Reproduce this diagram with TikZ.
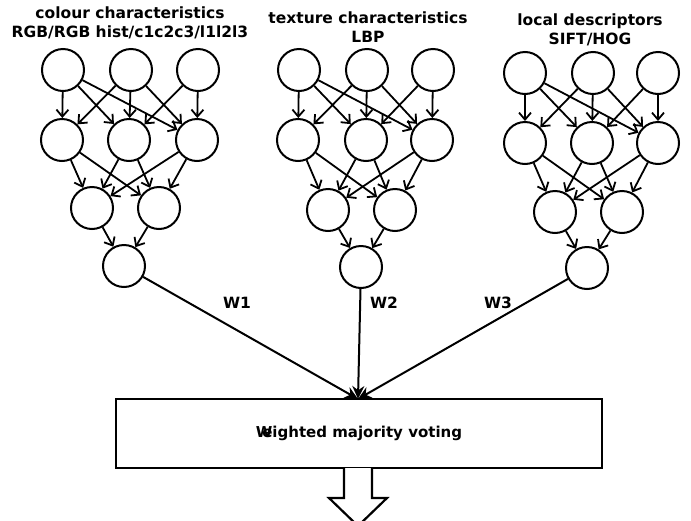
\documentclass[tikz,border=0pt]{standalone}
\usepackage{fontspec}
\setmainfont{DejaVu Sans}
\usetikzlibrary{arrows.meta}
\tikzset{
  neuron/.style={circle,draw,line width=2pt,minimum size=42pt,inner sep=0pt},
  edge/.style={line width=1.8pt,-{Straight Barb[length=7pt,width=12pt,line width=1.8pt]}},
  mainedge/.style={line width=2pt,-{Stealth[length=13pt,width=12pt]}},
  title/.style={font=\bfseries\fontsize{15.5}{19}\selectfont,align=center},
  wlabel/.style={font=\bfseries\fontsize{15.5}{19}\selectfont},
  votebox/.style={draw,line width=2pt,minimum width=486pt,minimum height=69pt,inner sep=0pt,font=\bfseries\fontsize{15}{18}\selectfont},
  fatarrow/.style={draw,line width=2.2pt,fill=white,line join=miter}
}
\begin{document}
\begin{tikzpicture}[x=1pt,y=-1pt]
\useasboundingbox (0,0) rectangle (691,520);
\clip (0,0) rectangle (691,520);
% titles
\node[title] (ta) at (130,23) {colour characteristics\\RGB/RGB hist/c1c2c3/l1l2l3};
\node[title] (tb) at (368,27) {texture characteristics\\LBP};
\node[title] (tc) at (590,30) {local descriptors\\SIFT/HOG};
% group a
\node[neuron] (at1) at (63,70) {};
\node[neuron] (at2) at (131,70) {};
\node[neuron] (at3) at (198,70) {};
\node[neuron] (am1) at (62,140) {};
\node[neuron] (am2) at (129,140) {};
\node[neuron] (am3) at (197,140) {};
\node[neuron] (al1) at (92,208) {};
\node[neuron] (al2) at (159,208) {};
\node[neuron] (ao) at (124,266) {};
% group b
\node[neuron] (bt1) at (299,70) {};
\node[neuron] (bt2) at (367,70) {};
\node[neuron] (bt3) at (433,70) {};
\node[neuron] (bm1) at (298,140) {};
\node[neuron] (bm2) at (366,140) {};
\node[neuron] (bm3) at (432,140) {};
\node[neuron] (bl1) at (328,210) {};
\node[neuron] (bl2) at (395,210) {};
\node[neuron] (bo) at (361,267) {};
% group c
\node[neuron] (ct1) at (525,73) {};
\node[neuron] (ct2) at (593,73) {};
\node[neuron] (ct3) at (658,73) {};
\node[neuron] (cm1) at (525,143) {};
\node[neuron] (cm2) at (592,143) {};
\node[neuron] (cm3) at (658,143) {};
\node[neuron] (cl1) at (555,212) {};
\node[neuron] (cl2) at (622,212) {};
\node[neuron] (co) at (587,268) {};
% edges
\foreach \g in {a,b,c}{
  \foreach \s/\t in {t1/m1,t1/m2,t1/m3,t2/m1,t2/m2,t2/m3,t3/m2,t3/m3,m1/l1,m1/l2,m2/l1,m2/l2,m3/l1,m3/l2,l1/o,l2/o}
    \draw[edge] (\g\s) -- (\g\t);
}
% vote box
\node[votebox] (vote) at (359,433.5) {W\llap{e}ighted majority voting};
\coordinate (in) at (358,399);
\draw[mainedge] (ao) -- (in);
\draw[mainedge] (bo) -- (in);
\draw[mainedge] (co) -- (in);
\node[wlabel] (w1) at (237,303) {W1};
\node[wlabel] (w2) at (384,303) {W2};
\node[wlabel] (w3) at (498,303) {W3};
% output arrow
\coordinate (oa) at (344,468);
\draw[fatarrow] (oa) -- ++(0,30) -- ++(-15,0) -- ++(29,28) -- ++(29,-28) -- ++(-15,0) -- ++(0,-30);
\end{tikzpicture}
\end{document}
